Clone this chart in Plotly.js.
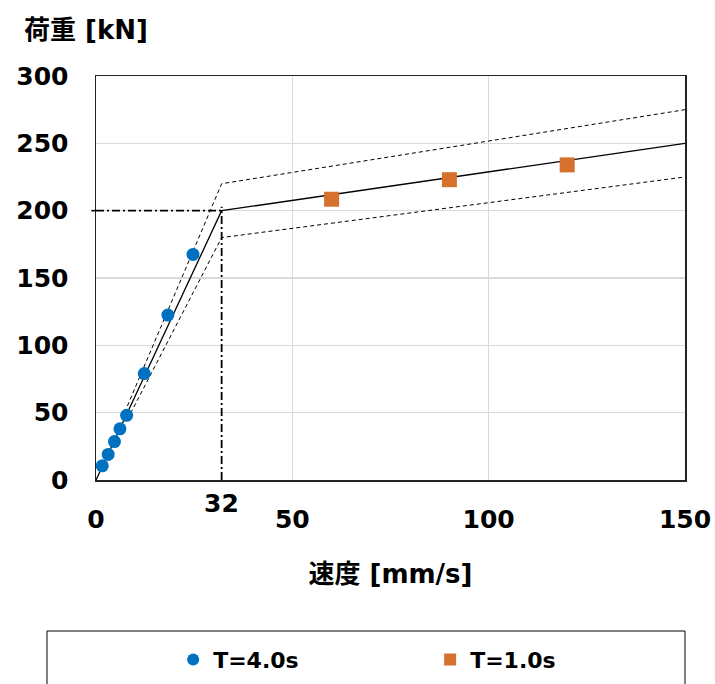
<!DOCTYPE html>
<html>
<head>
<meta charset="utf-8">
<script src="https://cdn.plot.ly/plotly-3.0.1.min.js"></script>
<style>html,body{margin:0;padding:0;background:#fff;}#chart{width:715px;height:684px;}</style>
</head>
<body>
<div id="chart"></div>
<script>
// Measured points
const t4Speed = [1.6, 3.1, 4.7, 6.1, 7.8, 12.3, 18.3, 24.7];
const t4Load  = [10.5, 19, 28.5, 38, 48, 79, 122.5, 167.5];
const t1Speed = [60, 90, 120];
const t1Load  = [208.5, 223, 234];
// Bilinear model and ±10% band
const fitSpeed = [0, 32, 150];
const fitLoad  = [0, 200, 250];
const bandSpeed = [8, 32, 150];
const upperLoad = [55, 220, 275];
const lowerLoad = [45, 180, 225];
// Reference point
const refSpeed = 32;
const refLoad = 200;
const xTicks = [0, 50, 100, 150];
const yTicks = [0, 50, 100, 150, 200, 250, 300];
const seriesNames = ['T=4.0s', 'T=1.0s'];

const FONT = 'DejaVu Sans, Noto Sans CJK JP, sans-serif';
const dashThin = '4px,3px';
const dashDot = '8px,3px,2px,3px';

const traces = [
  {x: bandSpeed, y: upperLoad, mode: 'lines', line: {color: '#000', width: 1, dash: dashThin}, showlegend: false, hoverinfo: 'skip'},
  {x: bandSpeed, y: lowerLoad, mode: 'lines', line: {color: '#000', width: 1, dash: dashThin}, showlegend: false, hoverinfo: 'skip'},
  {x: fitSpeed, y: fitLoad, mode: 'lines', line: {color: '#000', width: 1.3}, showlegend: false, hoverinfo: 'skip'},
  {x: t4Speed, y: t4Load, mode: 'markers', name: seriesNames[0], marker: {color: '#0070C0', size: 13, symbol: 'circle'}},
  {x: t1Speed, y: t1Load, mode: 'markers', name: seriesNames[1], marker: {color: '#D6702D', size: 15, symbol: 'square'}}
];

const layout = {
  width: 715, height: 684,
  margin: {l: 96, r: 30, t: 76, b: 204, autoexpand: false},
  paper_bgcolor: '#fff', plot_bgcolor: '#fff',
  font: {family: FONT, color: '#000'},
  showlegend: true,
  xaxis: {
    range: [0, 150], tickvals: xTicks, ticktext: xTicks.map(String),
    showgrid: true, gridcolor: '#D9D9D9', gridwidth: 1.3,
    zeroline: false, showline: true, mirror: true, linecolor: '#222', linewidth: 1.5,
    ticks: '', ticklabelstandoff: 16,
    tickfont: {family: FONT, size: 25, weight: 'bold', color: '#000'},
    title: {text: '速度 [mm/s]', font: {family: FONT, size: 26, weight: 'bold', color: '#000'}, standoff: 32}
  },
  yaxis: {
    range: [0, 300], tickvals: yTicks, ticktext: yTicks.map(String),
    showgrid: true, gridcolor: '#D9D9D9', gridwidth: 1.3,
    zeroline: false, showline: true, mirror: true, linecolor: '#222', linewidth: 1.5,
    ticks: '', ticklabelstandoff: 21,
    tickfont: {family: FONT, size: 25, weight: 'bold', color: '#000'}
  },
  legend: {
    orientation: 'h', x: 0.131, xanchor: 'left', y: -0.445, yanchor: 'middle',
    entrywidth: 212, entrywidthmode: 'pixels', itemsizing: 'constant',
    font: {family: FONT, size: 22, weight: 'bold', color: '#000'},
    bgcolor: 'rgba(0,0,0,0)', borderwidth: 0
  },
  shapes: [
    {type: 'line', xref: 'x', yref: 'y', x0: 0, x1: refSpeed, y0: refLoad, y1: refLoad, line: {color: '#000', width: 1.8, dash: dashDot}},
    {type: 'line', xref: 'x', yref: 'y', x0: refSpeed, x1: refSpeed, y0: 0, y1: refLoad + 3, line: {color: '#000', width: 1.8, dash: dashDot}},
    {type: 'line', xref: 'paper', yref: 'y', x0: -0.008, x1: 0, y0: refLoad, y1: refLoad, line: {color: '#000', width: 1.6}},
    {type: 'rect', xref: 'paper', yref: 'paper', x0: -0.0832, x1: 1.0, y0: -0.3738, y1: -0.53, line: {color: '#000', width: 1}, fillcolor: 'rgba(0,0,0,0)'}
  ],
  annotations: [
    {xref: 'paper', yref: 'paper', x: -0.125, y: 1.114, xanchor: 'left', yanchor: 'middle', showarrow: false,
     text: '荷重 [kN]', font: {family: FONT, size: 26, weight: 'bold', color: '#000'}},
    {xref: 'x', yref: 'paper', x: refSpeed, y: -0.057, xanchor: 'center', yanchor: 'middle', showarrow: false,
     text: String(refSpeed), font: {family: FONT, size: 25, weight: 'bold', color: '#000'}}
  ]
};

Plotly.newPlot('chart', traces, layout, {displayModeBar: false, staticPlot: true});
</script>
</body>
</html>
